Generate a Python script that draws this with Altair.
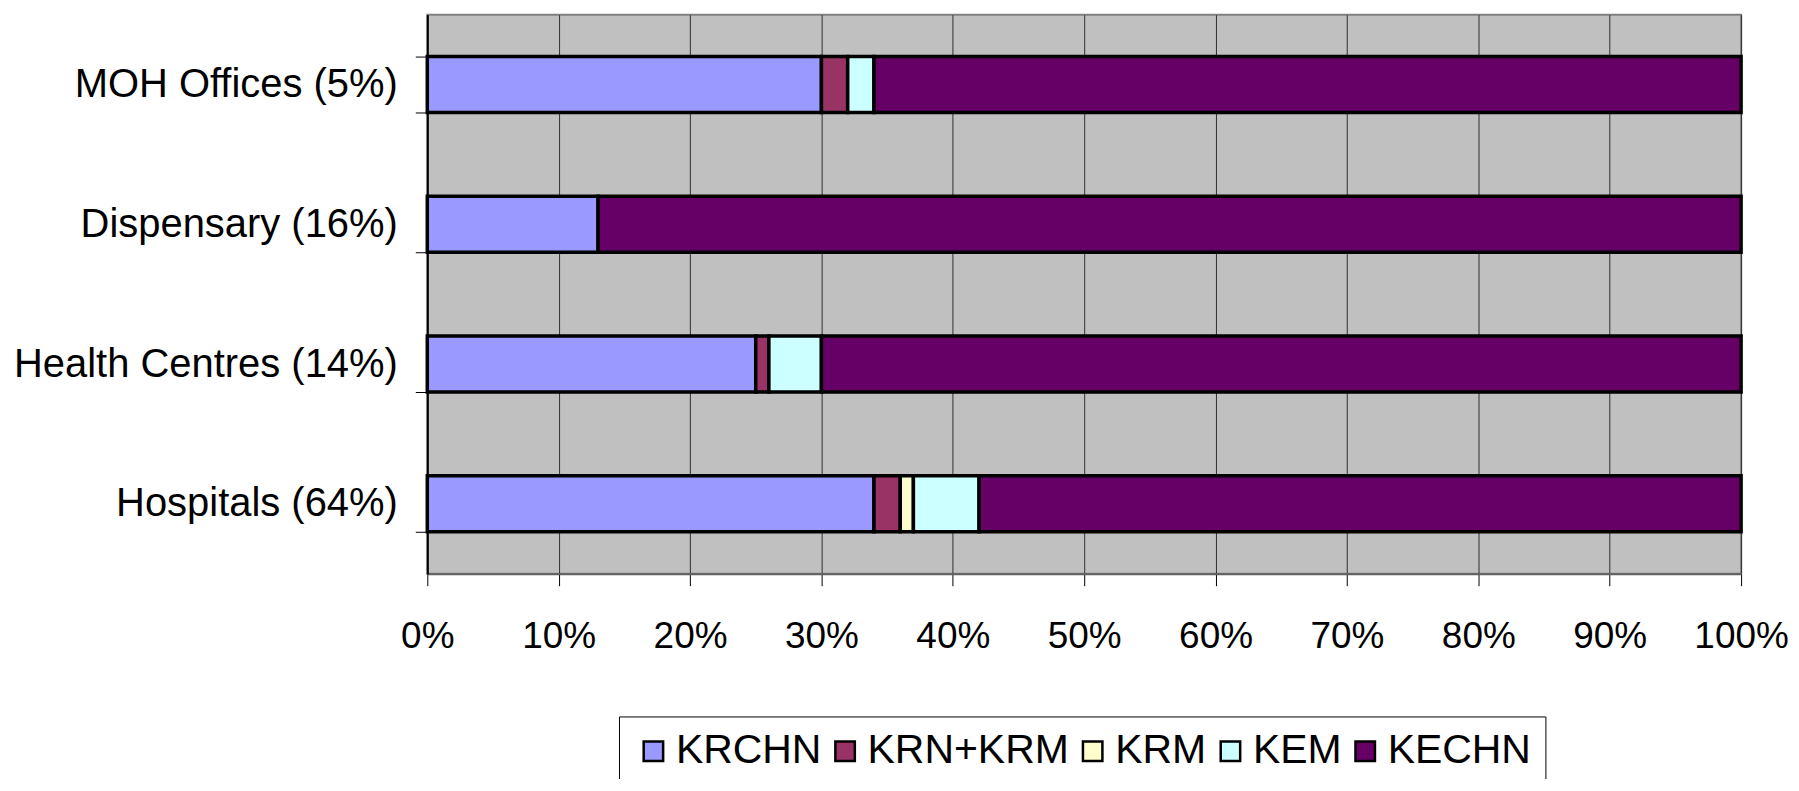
import altair as alt
import pandas as pd

categories = ["MOH Offices (5%)", "Dispensary (16%)", "Health Centres (14%)", "Hospitals (64%)"]
series = ["KRCHN", "KRN+KRM", "KRM", "KEM", "KECHN"]
colors = ["#9999FF", "#993366", "#FFFFCC", "#CCFFFF", "#660066"]

krchn = [30, 13, 25, 34]
krn_krm = [2, 0, 1, 2]
krm = [0, 0, 0, 1]
kem = [2, 0, 4, 5]
kechn = [66, 87, 70, 58]

values = [krchn, krn_krm, krm, kem, kechn]
rows = []
for si, (s, vals) in enumerate(zip(series, values)):
    for c, v in zip(categories, vals):
        if v > 0:
            rows.append({"category": c, "series": s, "value": v, "order": si})
df = pd.DataFrame(rows)

FONT = "Liberation Sans"

chart = alt.Chart(df).mark_bar(stroke="black", strokeWidth=3.5).encode(
    y=alt.Y("category:N", sort=categories,
            scale=alt.Scale(paddingInner=0.6, paddingOuter=0.3),
            axis=alt.Axis(title=None, tickBand="extent", labelFontSize=40, labelFont=FONT,
                          labelColor="black", tickSize=12, tickColor="black",
                          domainColor="black", domainWidth=2, labelPadding=18,
                          labelLimit=1000)),
    x=alt.X("value:Q", stack="zero",
            scale=alt.Scale(domain=[0, 100], nice=False),
            axis=alt.Axis(title=None, values=list(range(0, 101, 10)),
                          labelExpr="datum.value + '%'", labelFontSize=37, labelFont=FONT,
                          labelColor="black", tickSize=12, tickColor="black",
                          domainColor="#606060", domainWidth=2, labelPadding=33,
                          grid=True, gridColor="#303030", gridWidth=1, labelFlush=False)),
    color=alt.Color("series:N", sort=series,
                    scale=alt.Scale(domain=series, range=colors),
                    legend=alt.Legend(title=None, orient="none", direction="horizontal",
                                      legendX=192, legendY=703,
                                      labelFontSize=41, labelFont=FONT, labelColor="black",
                                      labelLimit=600,
                                      symbolType="square", symbolSize=380,
                                      symbolStrokeColor="black", symbolStrokeWidth=2.5,
                                      symbolOpacity=1,
                                      columnPadding=3, labelOffset=2,
                                      padding=14, strokeColor="black", fillColor="white",
                                      cornerRadius=0)),
    order=alt.Order("order:Q", sort="ascending"),
).properties(
    width=1316, height=560,
    autosize=alt.AutoSizeParams(type="none"),
    padding={"left": 420, "top": 6, "right": 50, "bottom": 205},
).configure_view(
    fill="#C0C0C0", stroke="#808080", strokeWidth=2
)

chart.save("out.html", embed_options={"renderer": "svg", "actions": False})
